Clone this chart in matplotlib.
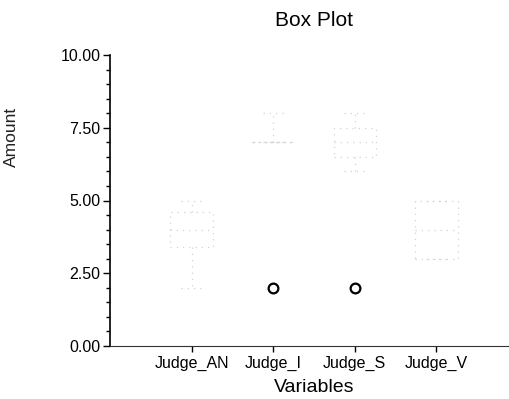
import matplotlib.pyplot as plt
from matplotlib.ticker import MultipleLocator, FormatStrFormatter

plt.rcParams['font.family'] = ['Liberation Sans', 'DejaVu Sans']

# five-number summaries per judge
judges = ['Judge_AN', 'Judge_I', 'Judge_S', 'Judge_V']
whisker_low = [2.0, 7.0, 6.0, 3.0]
q1 = [3.4, 7.0, 6.5, 3.0]
median = [4.0, 7.0, 7.0, 4.0]
q3 = [4.6, 7.0, 7.5, 5.0]
whisker_high = [5.0, 8.0, 8.0, 5.0]
outliers = [[], [2.0], [2.0], []]

stats = []
for i, name in enumerate(judges):
    stats.append({
        'label': name,
        'whislo': whisker_low[i],
        'q1': q1[i],
        'med': median[i],
        'q3': q3[i],
        'whishi': whisker_high[i],
        'fliers': outliers[i],
    })

fig = plt.figure(figsize=(5.1, 3.99), dpi=100)
ax = fig.add_axes([110 / 510, 53 / 399, 408 / 510, 291 / 399])

# box outlines are very light, broken lines
faint = dict(color='#d2d2d2', linestyle=(0, (1, 4)), linewidth=0.9)
ax.bxp(stats, positions=[1, 2, 3, 4], widths=0.52,
       boxprops=faint, medianprops=faint, whiskerprops=faint, capprops=faint,
       flierprops=dict(marker='o', markerfacecolor='none', markeredgecolor='black',
                       markersize=7, markeredgewidth=1.6))

ax.set_xlim(0, 5)
ax.set_ylim(0, 10)
ax.yaxis.set_major_locator(MultipleLocator(2.5))
ax.yaxis.set_minor_locator(MultipleLocator(0.5))
ax.yaxis.set_major_formatter(FormatStrFormatter('%.2f'))
ax.tick_params(axis='y', which='major', length=5, width=1, labelsize=11.5, pad=2)
ax.tick_params(axis='y', which='minor', length=3, width=1)
ax.tick_params(axis='x', length=4, width=1, labelsize=11.5, pad=3)

for side in ['top', 'right']:
    ax.spines[side].set_visible(False)
ax.spines['left'].set_linewidth(1.2)
ax.spines['bottom'].set_color('#333333')

ax.set_title('Box Plot', fontsize=15, pad=21)
ax.set_xlabel('Variables', fontsize=14, labelpad=6)
ax.set_ylabel('Amount', fontsize=12.5, color='#222222')
ax.yaxis.set_label_coords(-0.223, 0.718)

fig.savefig('out.png', dpi=100)
